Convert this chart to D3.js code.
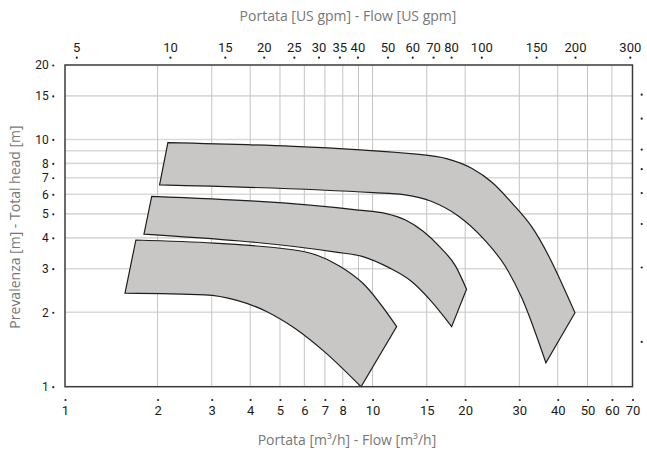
<!DOCTYPE html>
<html>
<head>
<meta charset="utf-8">
<script src="https://cdn.jsdelivr.net/npm/d3@7"></script>
<style>
  html, body { margin: 0; padding: 0; background: #fff; }
  svg { display: block; font-family: "Open Sans", "DejaVu Sans", sans-serif; }
</style>
</head>
<body>
<svg id="chart" width="647" height="457"></svg>
<script>
// ---- Tick values ----
const bottomTicks = [1, 2, 3, 4, 5, 6, 7, 8, 10, 15, 20, 30, 40, 50, 60, 70];   // m3/h
const topTicks = [5, 10, 15, 20, 25, 30, 35, 40, 50, 60, 70, 80, 100, 150, 200, 300]; // US gpm
const leftTicks = [1, 2, 3, 4, 5, 6, 7, 8, 10, 15, 20];                          // m
const rightTicksFt = [5, 10, 15, 20, 25, 30, 40, 50];                            // ft (unlabelled)
const vGrid = [2, 3, 4, 5, 6, 7, 8, 9, 10, 15, 20, 30, 40, 50, 60];
const hGrid = [2, 3, 4, 5, 6, 7, 8, 9, 10, 15];

// ---- Pump range bands: [flow m3/h, head m] ----
const band1Top = [[2.16, 9.70], [14.2, 8.70], [17.5, 8.35], [21.0, 7.65], [24.5, 6.70], [28.5, 5.50], [32.9, 4.44], [45.5, 1.99]];
const band1Bottom = [[2.03, 6.55], [10.05, 6.09], [12.6, 5.98], [15.5, 5.62], [19.0, 4.90], [23.0, 3.95], [27.0, 3.07], [30.5, 2.30], [36.6, 1.25]];

const band2Top = [[1.914, 5.89], [9.0, 5.18], [11.0, 5.02], [12.8, 4.72], [14.6, 4.25], [16.6, 3.66], [18.6, 3.08], [20.2, 2.48]];
const band2Bottom = [[1.806, 4.14], [7.6, 3.50], [9.3, 3.36], [11.3, 3.03], [13.3, 2.68], [15.4, 2.24], [18.08, 1.75]];

const band3Top = [[1.70, 3.92], [5.5, 3.58], [6.6, 3.40], [7.8, 3.08], [9.3, 2.62], [11.98, 1.75]];
const band3Bottom = [[1.567, 2.39], [2.85, 2.35], [3.6, 2.24], [4.5, 2.02], [5.6, 1.72], [7.0, 1.38], [9.17, 1.0]];

const bands = [
  { top: band1Top, bottom: band1Bottom },
  { top: band2Top, bottom: band2Bottom },
  { top: band3Top, bottom: band3Bottom }
];

// ---- Layout ----
const plot = { left: 65, right: 632.5, top: 65, bottom: 386.7 };
const svg = d3.select("#chart");

const x = d3.scaleLog().domain([1, 70]).range([plot.left, plot.right]);
const xTop = d3.scaleLog().domain([4.6, 306]).range([plot.left, plot.right]);
const y = d3.scaleLog().domain([1, 20]).range([plot.bottom, plot.top]);

// Grid
const grid = svg.append("g");
grid.selectAll("line.h").data(hGrid).join("line")
  .attr("x1", plot.left).attr("x2", plot.right)
  .attr("y1", d => y(d)).attr("y2", d => y(d))
  .attr("stroke", "#d9d9d9").attr("stroke-width", 1.6);
grid.selectAll("line.v").data(vGrid).join("line")
  .attr("y1", plot.top).attr("y2", plot.bottom)
  .attr("x1", d => x(d)).attr("x2", d => x(d))
  .attr("stroke", "#c4c4c4").attr("stroke-width", 1);

// Bands
const line = d3.line().x(d => x(d[0])).y(d => y(d[1])).curve(d3.curveMonotoneX);
svg.append("g").selectAll("path").data(bands).join("path")
  .attr("d", b => {
    const p1 = line(b.top);
    const p2 = line(b.bottom.slice().reverse());
    return p1 + "L" + p2.slice(1) + "Z";
  })
  .attr("fill", "#c8c7c6")
  .attr("stroke", "#1e1e1e")
  .attr("stroke-width", 1.2)
  .attr("stroke-linejoin", "miter");

// Frame
svg.append("rect")
  .attr("x", plot.left).attr("y", plot.top)
  .attr("width", plot.right - plot.left).attr("height", plot.bottom - plot.top)
  .attr("fill", "none").attr("stroke", "#3a3a3a").attr("stroke-width", 1.5);

function styleAxis(g, size) {
  g.select(".domain").remove();
  g.selectAll("text").attr("fill", "#1a1a1a").style("font-size", size + "px")
    .style("font-family", "Roboto, 'Open Sans', sans-serif");
  g.selectAll(".tick").append("circle").attr("r", 1.1).attr("fill", "#222");
}

// Bottom axis
svg.append("g").attr("transform", `translate(0,400)`)
  .call(d3.axisBottom(x).tickValues(bottomTicks).tickSize(0).tickPadding(5.5).tickFormat(d3.format("d")))
  .call(styleAxis, 13);

// Top axis
svg.append("g").attr("transform", `translate(0,57.7)`)
  .call(d3.axisTop(xTop).tickValues(topTicks).tickSize(0).tickPadding(5.5).tickFormat(d3.format("d")))
  .call(styleAxis, 13);

// Left axis
svg.append("g").attr("transform", `translate(53.3,0)`)
  .call(d3.axisLeft(y).tickValues(leftTicks).tickSize(0).tickPadding(4.5).tickFormat(d3.format("d")))
  .call(styleAxis, 12);

// Right axis (feet, dots only)
svg.append("g").attr("transform", `translate(641.7,0)`)
  .call(d3.axisRight(y).tickValues(rightTicksFt.map(f => f / 3.281)).tickSize(0).tickFormat(""))
  .call(styleAxis, 12);

// Titles
const titleStyle = sel => sel.attr("fill", "#777").style("font-size", "14px")
  .style("font-family", "'Open Sans', 'DejaVu Sans', sans-serif").attr("text-anchor", "middle");

svg.append("text").attr("x", 348).attr("y", 21).text("Portata [US gpm] - Flow [US gpm]").call(titleStyle);
svg.append("text").attr("x", 347).attr("y", 445).text("Portata [m³/h] - Flow [m³/h]").call(titleStyle);
svg.append("text").attr("transform", "translate(20,227) rotate(-90)").text("Prevalenza [m] - Total head [m]").call(titleStyle);
</script>
</body>
</html>
